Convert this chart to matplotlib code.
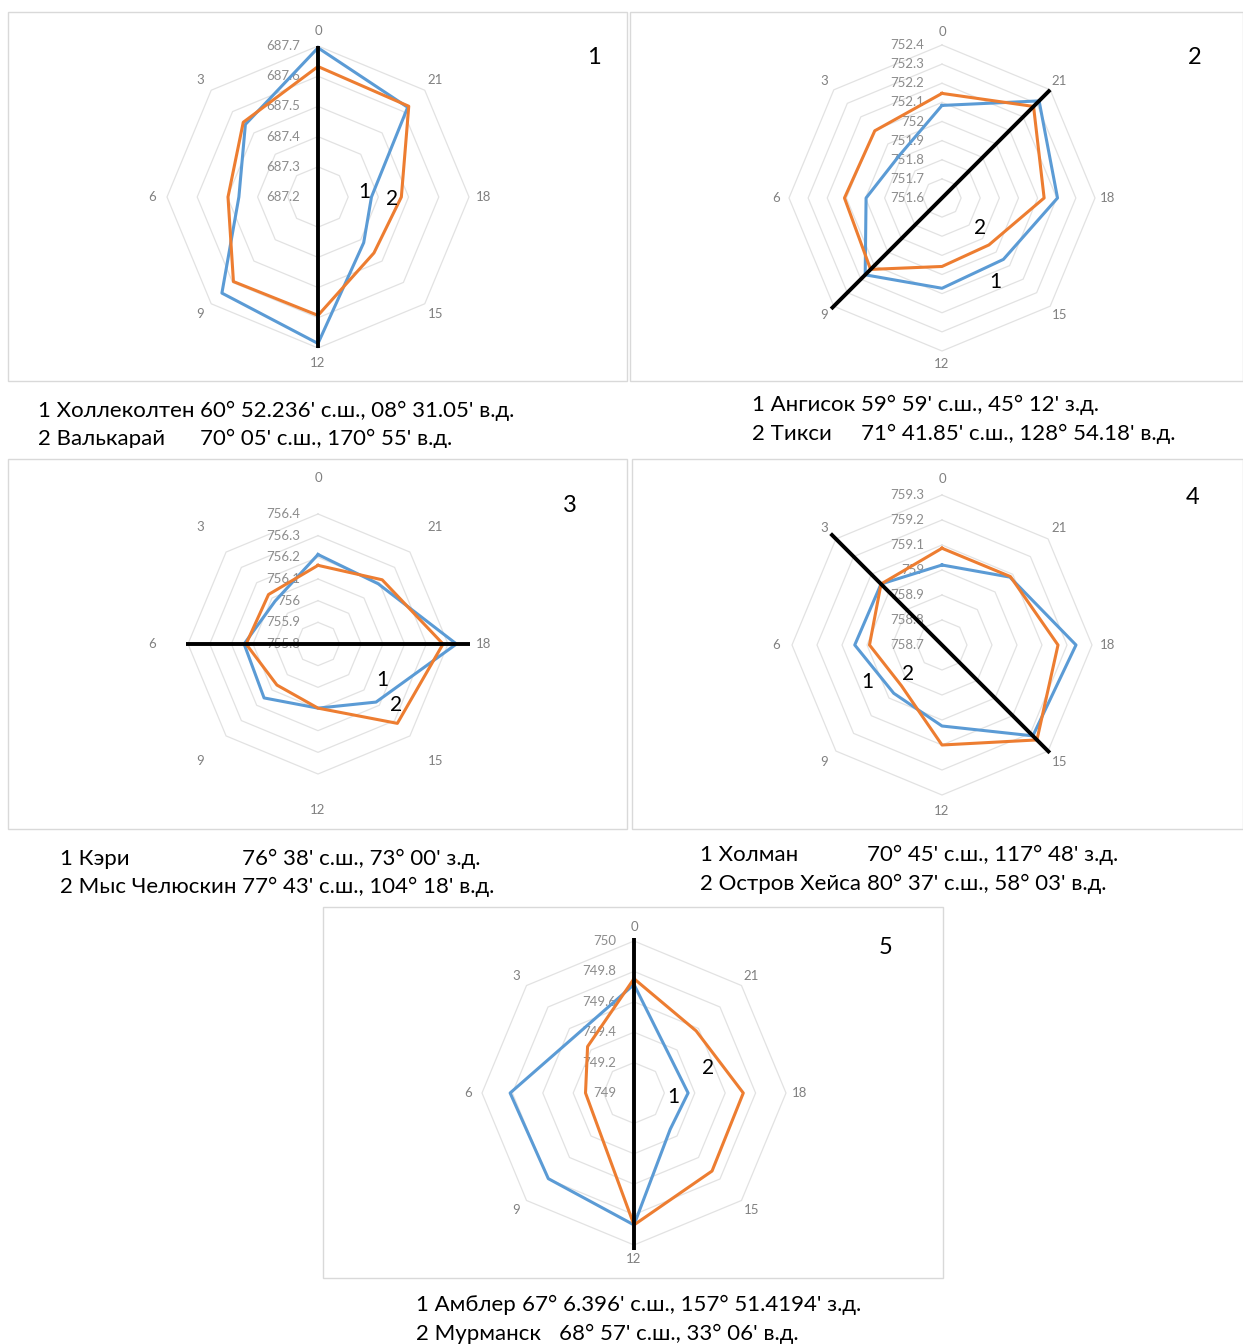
import numpy as np
import matplotlib.pyplot as plt
from matplotlib.patches import Rectangle

plt.rcParams['font.family'] = ['Lato', 'Noto Sans', 'DejaVu Sans']

W, H = 1243, 1344
hours = ['0', '21', '18', '15', '12', '9', '6', '3']

# pressure by hour, station 1 (blue) and station 2 (orange)
p1_s1 = [687.694, 687.62, 687.377, 687.414, 687.685, 687.65, 687.462, 687.54]
p1_s2 = [687.632, 687.625, 687.476, 687.462, 687.592, 687.596, 687.498, 687.55]
p1_ticks = [687.2, 687.3, 687.4, 687.5, 687.6, 687.7]
p1_labels = ['687.2', '687.3', '687.4', '687.5', '687.6', '687.7']

p2_s1 = [752.084, 752.318, 752.204, 752.054, 752.072, 752.168, 751.997, 751.915]
p2_s2 = [752.147, 752.277, 752.134, 751.947, 751.958, 752.128, 752.11, 752.097]
p2_ticks = [751.6, 751.7, 751.8, 751.9, 752.0, 752.1, 752.2, 752.3, 752.4]
p2_labels = ['751.6', '751.7', '751.8', '751.9', '752', '752.1', '752.2', '752.3', '752.4']

p3_s1 = [756.213, 756.193, 756.439, 756.179, 756.096, 756.152, 756.141, 756.08]
p3_s2 = [756.163, 756.219, 756.377, 756.318, 756.096, 756.068, 756.132, 756.123]
p3_ticks = [755.8, 755.9, 756.0, 756.1, 756.2, 756.3, 756.4]
p3_labels = ['755.8', '755.9', '756', '756.1', '756.2', '756.3', '756.4']

p4_s1 = [759.02, 759.084, 759.236, 759.214, 759.024, 758.973, 759.049, 759.045]
p4_s2 = [759.087, 759.087, 759.164, 759.237, 759.10, 758.93, 758.99, 759.045]
p4_ticks = [758.7, 758.8, 758.9, 759.0, 759.1, 759.2, 759.3]
p4_labels = ['758.7', '758.8', '758.9', '759', '759.1', '759.2', '759.3']

p5_s1 = [749.714, 749.336, 749.356, 749.337, 749.868, 749.797, 749.815, 749.538]
p5_s2 = [749.752, 749.578, 749.719, 749.726, 749.868, 749.33, 749.319, 749.432]
p5_ticks = [749.0, 749.2, 749.4, 749.6, 749.8, 750.0]
p5_labels = ['749', '749.2', '749.4', '749.6', '749.8', '750']

# hand-drawn black lines: (hours at the ends, pressure at the ends)
p1_cut = (['0', '12'], [687.7, 687.7])
p2_cut = (['9', '21'], [752.42, 752.4])
p3_cut = (['6', '18'], [756.41, 756.5])
p4_cut = (['3', '15'], [759.33, 759.31])
p5_cut = (['0', '12'], [750.02, 750.03])

p1_names = ['1 Холлеколтен', '2 Валькарай']
p1_coords = ["60° 52.236' с.ш., 08° 31.05' в.д.", "70° 05' с.ш., 170° 55' в.д."]
p2_names = ['1 Ангисок', '2 Тикси']
p2_coords = ["59° 59' с.ш., 45° 12' з.д.", "71° 41.85' с.ш., 128° 54.18' в.д."]
p3_names = ['1 Кэри', '2 Мыс Челюскин']
p3_coords = ["76° 38' с.ш., 73° 00' з.д.", "77° 43' с.ш., 104° 18' в.д."]
p4_names = ['1 Холман', '2 Остров Хейса']
p4_coords = ["70° 45' с.ш., 117° 48' з.д.", "80° 37' с.ш., 58° 03' в.д."]
p5_names = ['1 Амблер', '2 Мурманск']
p5_coords = ["67° 6.396' с.ш., 157° 51.4194' з.д.", "68° 57' с.ш., 33° 06' в.д."]

BLUE = '#5b9bd5'
ORANGE = '#ed7d31'
GRID = '#e2e2e2'
GREY = '#808080'
L = 166  # hour labels distance from centre, px
CAP = 16

# caption coords placement: 'join' = after the name, 'align' = under the other line, number = px
panels = [
    dict(c=(318, 197), ring=151, s1=p1_s1, s2=p1_s2, ticks=p1_ticks, labels=p1_labels, cut=p1_cut,
         num='1', num_xy=(594, 58), tag1=(364, 192), tag2=(392, 199),
         names=p1_names, coords=p1_coords, nx=38, cx=['join', 'align'], cy=[411, 439],
         box=(8, 12, 627, 381)),
    dict(c=(942, 198), ring=153, s1=p2_s1, s2=p2_s2, ticks=p2_ticks, labels=p2_labels, cut=p2_cut,
         num='2', num_xy=(1195, 58), tag1=(995, 282), tag2=(980, 228),
         names=p2_names, coords=p2_coords, nx=752, cx=['join', 861], cy=[405, 434],
         box=(630, 12, 1243, 381)),
    dict(c=(318, 644), ring=130, s1=p3_s1, s2=p3_s2, ticks=p3_ticks, labels=p3_labels, cut=p3_cut,
         num='3', num_xy=(570, 505), tag1=(382, 680), tag2=(396, 705),
         names=p3_names, coords=p3_coords, nx=60, cx=['align', 'join'], cy=[859, 887],
         box=(8, 459, 627, 829)),
    dict(c=(942, 645), ring=150, s1=p4_s1, s2=p4_s2, ticks=p4_ticks, labels=p4_labels, cut=p4_cut,
         num='4', num_xy=(1193, 498), tag1=(867, 682), tag2=(908, 674),
         names=p4_names, coords=p4_coords, nx=700, cx=['align', 'join'], cy=[855, 884],
         box=(632, 459, 1243, 829)),
    dict(c=(634, 1093), ring=152, s1=p5_s1, s2=p5_s2, ticks=p5_ticks, labels=p5_labels, cut=p5_cut,
         num='5', num_xy=(886, 948), tag1=(673, 1097), tag2=(708, 1068),
         names=p5_names, coords=p5_coords, nx=416, cx=['join', 559], cy=[1305, 1334],
         box=(323, 907, 943, 1278)),
]


def fx(x):
    return x / W


def fy(y):
    return 1 - y / H


fig = plt.figure(figsize=(W / 100, H / 100), dpi=100)
renderer = fig.canvas.get_renderer()
theta = np.deg2rad(np.arange(len(hours)) * 360 / len(hours))
theta_c = np.append(theta, theta[0])


def text_width(s):
    t = fig.text(0, 0, s, fontsize=CAP)
    w = t.get_window_extent(renderer).width
    t.remove()
    return w


for p in panels:
    x0, y0, x1, y1 = p['box']
    fig.patches.append(Rectangle((fx(x0), fy(y1)), (x1 - x0) / W, (y1 - y0) / H,
                                 transform=fig.transFigure, fill=False, ec='#d9d9d9', lw=1))

    cx, cy = p['c']
    ax = fig.add_axes([fx(cx - L), fy(cy + L), 2 * L / W, 2 * L / H], projection='polar')
    ax.set_theta_zero_location('N')
    ax.set_theta_direction(-1)
    rmin, rtop = p['ticks'][0], p['ticks'][-1]
    ppu = p['ring'] / (rtop - rmin)
    rlab = rmin + L / ppu
    ax.set_ylim(rmin, rlab)
    ax.axis('off')

    # octagon grid
    for t in p['ticks'][1:]:
        ax.plot(theta_c, [t] * len(theta_c), color=GRID, lw=0.9, zorder=1)
    for t, lab in zip(p['ticks'], p['labels']):
        ax.annotate(lab, xy=(0, t), xytext=(-13, 0), textcoords='offset points',
                    ha='right', va='center', fontsize=9.5, color='#8c8c8c', zorder=2)
    for th, h in zip(theta, hours):
        ax.text(th, rlab, h, ha='center', va='center', fontsize=9.5, color=GREY)

    ax.plot(theta_c, p['s1'] + p['s1'][:1], color=BLUE, lw=2.2, zorder=3)
    ax.plot(theta_c, p['s2'] + p['s2'][:1], color=ORANGE, lw=2.2, zorder=4)

    ends, rr = p['cut']
    idx = [hours.index(h) for h in ends]
    ax.plot(theta[idx], rr, color='black', lw=2.8, zorder=5, solid_capstyle='butt')

    fig.text(fx(p['num_xy'][0]), fy(p['num_xy'][1]), p['num'], fontsize=17, ha='center', va='center')
    fig.text(fx(p['tag1'][0]), fy(p['tag1'][1]), '1', fontsize=15, ha='center', va='center')
    fig.text(fx(p['tag2'][0]), fy(p['tag2'][1]), '2', fontsize=15, ha='center', va='center')

    # caption: work out where the coordinates start
    joined = {}
    for i, (name, coord) in enumerate(zip(p['names'], p['coords'])):
        if p['cx'][i] == 'join':
            full = name + ' ' + coord
            joined[i] = p['nx'] + text_width(full) - text_width(coord)
    xs = []
    for i, mode in enumerate(p['cx']):
        if mode == 'join':
            xs.append(joined[i])
        elif mode == 'align':
            xs.append(list(joined.values())[0])
        else:
            xs.append(mode)
    for name, coord, xc, y in zip(p['names'], p['coords'], xs, p['cy']):
        fig.text(fx(p['nx']), fy(y), name, fontsize=CAP, ha='left', va='center')
        fig.text(fx(xc), fy(y), coord, fontsize=CAP, ha='left', va='center')

# the second caption line of panel 1 is cut off by the next row
fig.patches.append(Rectangle((0, fy(458)), fx(627), 10 / H, transform=fig.transFigure,
                             fc='white', ec='none', zorder=10))

fig.savefig('out.png', dpi=100)
